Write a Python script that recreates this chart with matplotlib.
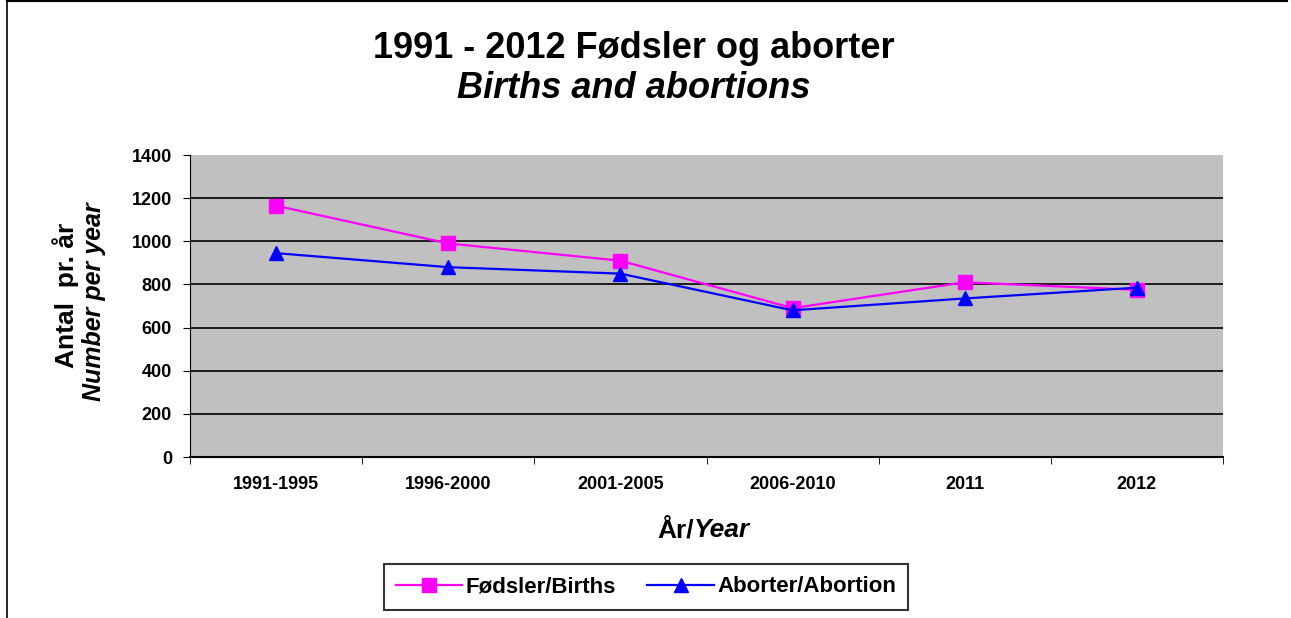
import matplotlib.pyplot as plt
import numpy as np
from matplotlib.lines import Line2D

plt.rcParams['font.family'] = ['Liberation Sans', 'DejaVu Sans']

periods = ["1991-1995", "1996-2000", "2001-2005", "2006-2010", "2011", "2012"]
births = [1165, 990, 910, 690, 810, 775]
abortions = [945, 880, 850, 680, 735, 785]
yticks = [0, 200, 400, 600, 800, 1000, 1200, 1400]

W, H = 1291, 618
fig = plt.figure(figsize=(W / 100, H / 100), dpi=100)
ax = fig.add_axes([190 / W, 1 - 457 / H, (1223 - 190) / W, (457 - 155) / H])
ax.set_facecolor("#C0C0C0")

x = np.arange(len(periods))
ax.plot(x, births, color="#FF00FF", lw=1.6, marker="s", ms=10, zorder=3)
ax.plot(x, abortions, color="#0000FF", lw=1.6, marker="^", ms=10, zorder=4)

ax.set_xlim(-0.5, len(periods) - 0.5)
ax.set_ylim(0, 1400)
ax.set_yticks(yticks)
ax.set_yticklabels([str(v) for v in yticks], fontsize=13, fontweight="bold")
for v in yticks[1:-1]:
    ax.axhline(v, color="black", lw=1.2, zorder=1)

ax.set_xticks(x)
ax.set_xticklabels(periods, fontsize=13, fontweight="bold")
ax.tick_params(axis="x", which="major", length=0, pad=14)
ax.set_xticks(np.arange(-0.5, len(periods)), minor=True)
ax.tick_params(axis="x", which="minor", length=5, direction="out", color="black")
ax.tick_params(axis="y", length=5, direction="out", pad=8)

for s in ["top", "right"]:
    ax.spines[s].set_visible(False)
ax.spines["left"].set_color("black")
ax.spines["bottom"].set_color("black")
ax.spines["bottom"].set_linewidth(1.5)

# titles
fig.text(634 / W, 1 - 48 / H, "1991 - 2012 Fødsler og aborter", ha="center", va="center",
         fontsize=26, fontweight="bold")
fig.text(634 / W, 1 - 89 / H, "Births and abortions", ha="center", va="center",
         fontsize=26, fontweight="bold", style="italic")

# y label
fig.text(66 / W, 1 - 295 / H, "Antal  pr. år", rotation=90, ha="center", va="center",
         fontsize=19, fontweight="bold")
fig.text(94 / W, 1 - 302 / H, "Number per year", rotation=90, ha="center", va="center",
         fontsize=18, fontweight="bold", style="italic")

# x label
fig.text(694 / W, 1 - 530 / H, "År/", ha="right", va="center", fontsize=19, fontweight="bold")
fig.text(694 / W, 1 - 530 / H, "Year", ha="left", va="center", fontsize=19,
         fontweight="bold", style="italic")

handles = [
    Line2D([], [], color="#FF00FF", lw=1.6, marker="s", ms=10),
    Line2D([], [], color="#0000FF", lw=1.6, marker="^", ms=10),
]
leg = fig.legend(handles, ["Fødsler/Births", "Aborter/Abortion"], loc="center",
                 bbox_to_anchor=(646 / W, 1 - 587 / H), ncol=2, frameon=True,
                 fancybox=False, edgecolor="black", prop={"size": 16, "weight": "bold"},
                 handlelength=3.0, handletextpad=0.15, columnspacing=1.4, borderpad=0.55)
leg.get_frame().set_linewidth(1.5)

# outer frame lines (left and top)
fig.add_artist(Line2D([7 / W, 7 / W], [0, 1], color="black", lw=1.2))
fig.add_artist(Line2D([7 / W, 1287 / W], [1 - 1 / H, 1 - 1 / H], color="black", lw=1.5))

fig.savefig("out.png", dpi=100)
